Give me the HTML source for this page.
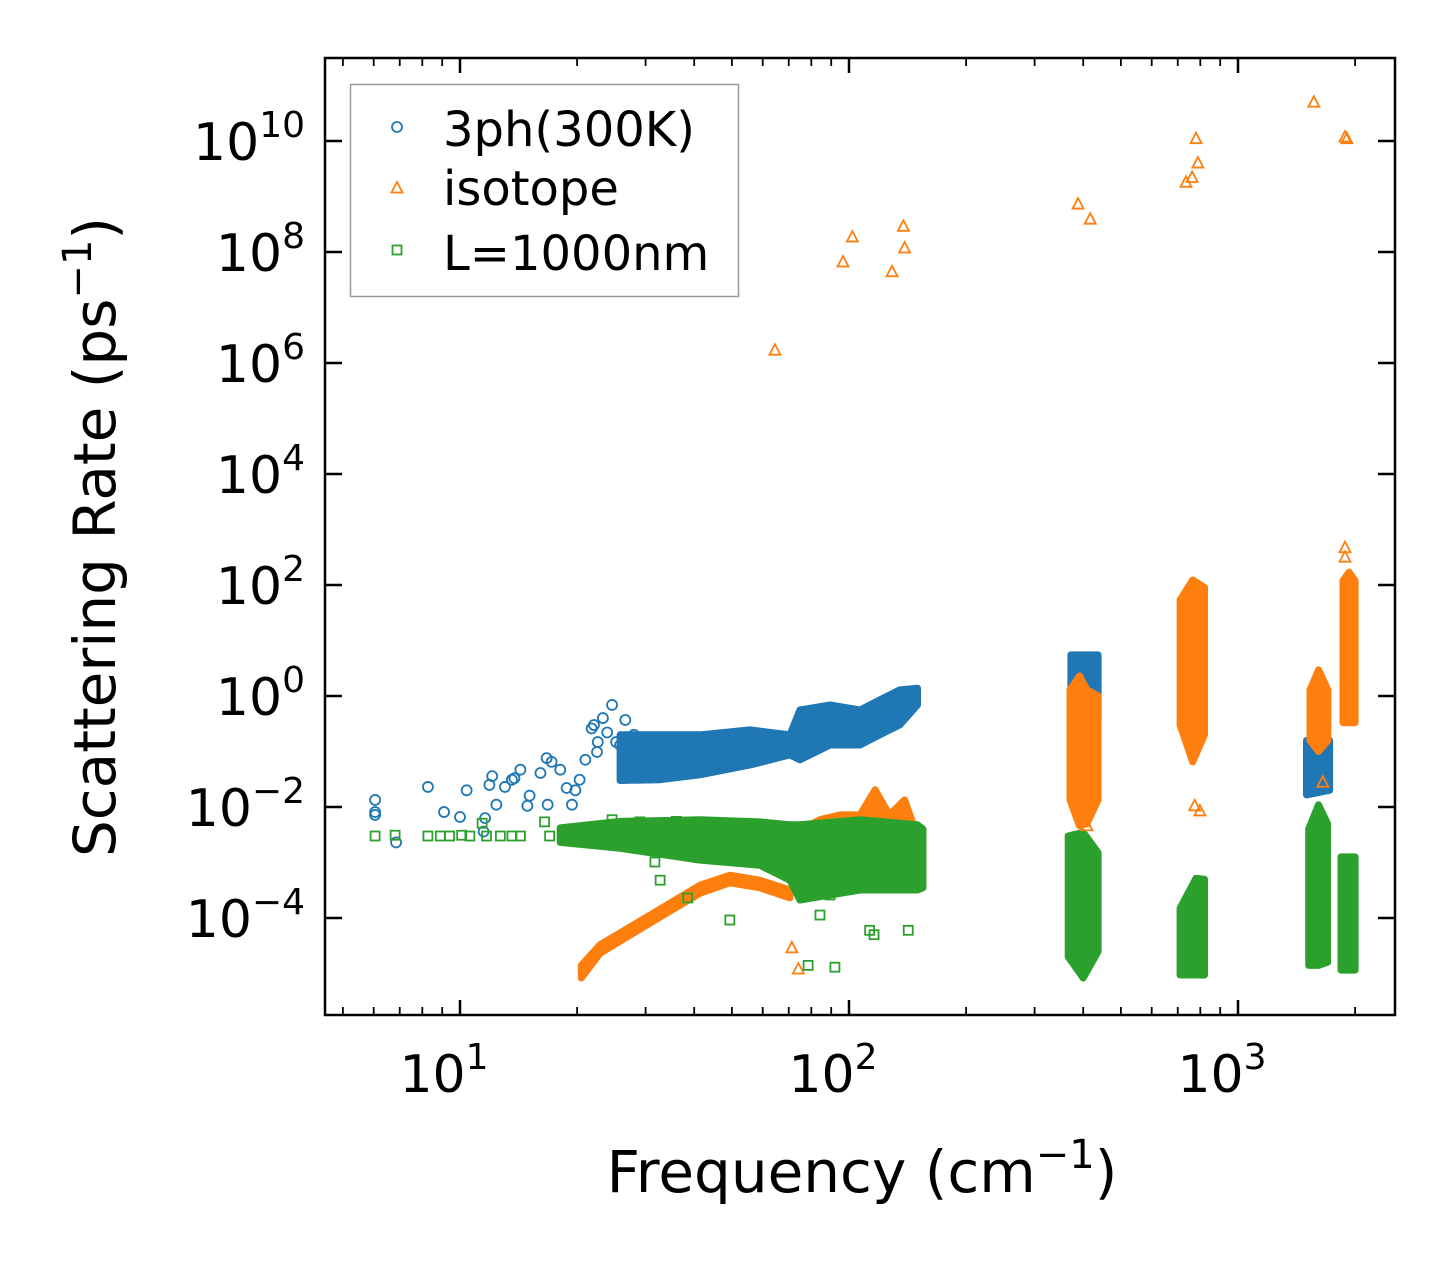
<!DOCTYPE html>
<html><head><meta charset="utf-8"><style>
html,body{margin:0;padding:0;background:#fff;}
svg{display:block;font-family:"DejaVu Sans","Liberation Sans",sans-serif;}
</style></head><body>
<svg id="chart" width="1455" height="1265" viewBox="0 0 1455 1265" xmlns="http://www.w3.org/2000/svg">
<rect width="1455" height="1265" fill="#fff"/>
<g id="bands"></g>
<g id="marks"></g>
<g id="axes"></g>
</svg>
<script>
// ---- data ----
const blueF = [6.05,6.05,6.05,6.85,8.27,9.1,10,10.4,11.5,11.6,12.1,11.9,12.4,13.05,13.6,13.8,14.3,14.9,15.1,16.1,16.7,16.8,17.2,18.1,18.8,19.4,19.8,20.3,21.0,21.8,22.1,22.5,22.6,23.3,23.9,24.6,25.2,25.8,26.6,27.0,28.0,29.0];
const blueR = [0.0134,0.0072,0.0081,0.0023,0.023,0.0081,0.0066,0.020,0.0036,0.0063,0.036,0.025,0.011,0.023,0.031,0.033,0.047,0.0105,0.016,0.041,0.076,0.011,0.065,0.047,0.022,0.011,0.020,0.031,0.071,0.26,0.30,0.098,0.148,0.40,0.22,0.69,0.148,0.131,0.37,0.107,0.20,0.131];
const blueBandF  = [25.8,32.7,41.4,55.7,70.5,74.8,89.4,106.7,120,135,150];
const blueBandLo = [0.03,0.031,0.038,0.057,0.087,0.071,0.131,0.131,0.20,0.30,0.69];
const blueBandHi = [0.2,0.20,0.20,0.245,0.20,0.56,0.69,0.56,0.85,1.29,1.38];
const blueCl1F=[372,405,437], blueCl1Lo=[0.0204,0.031,0.4], blueCl1Hi=[5.5,5.5,5.5];
const blueCl2F=[1500,1720], blueCl2Lo=[0.0165,0.02], blueCl2Hi=[0.158,0.158];

const orangeF = [64.5,96.5,102,129,138,139,388,417,735,762,780,789,1567,1884,1905,71.3,74.1,409,774,798,1652,1884,1884];
const orangeR = [1.7e6,6.6e7,1.86e8,4.4e7,2.9e8,1.18e8,7.3e8,3.9e8,1.8e9,2.2e9,1.1e10,4e9,5e10,1.18e10,1.1e10,2.9e-5,1.2e-5,0.0046,0.0105,0.0085,0.028,470,316];
const orangeRampF  = [20.5,22.9,30.8,41.4,49.4,59,70.5];
const orangeRampLo = [8.3e-6,2.3e-5,8.1e-5,2.8e-4,4.3e-4,3.5e-4,2.3e-4];
const orangeRampHi = [1.4e-5,3.3e-5,1.13e-4,3.9e-4,5.9e-4,4.8e-4,3.2e-4];
const orangeBlkF  = [74.8,84.2,94.8,106.7,116.7,127,139,148,152];
const orangeBlkLo = [8.2e-4,8.2e-4,8.2e-4,8.2e-4,8.2e-4,8.2e-4,8.2e-4,8.2e-4,8.2e-4];
const orangeBlkHi = [0.0039,0.0059,0.0072,0.0072,0.0204,0.0072,0.0134,0.0039,0.0011];
const orangeCl = [
  {f:[370,391,409,437], lo:[0.0134,0.0046,0.005,0.0134], hi:[1.29,2.3,1.29,1.0]},
  {f:[710,765,820], lo:[0.3,0.065,0.2], hi:[54,123,90]},
  {f:[1531,1610,1703], lo:[0.158,0.1,0.158], hi:[1.29,2.95,1.29]},
  {f:[1862,1930,2000], lo:[0.33,0.33,0.33], hi:[120,170,120]}
];

const greenF = [6.05,6.81,8.27,8.9,9.4,10.1,10.6,11.4,11.7,12.7,13.6,14.3,16.5,17.0,31.7,32.7,38.5,49.4,78.5,92,84.2,113,116,142,89.4,24.6,29,36];
const greenR = [0.003,0.0031,0.003,0.003,0.003,0.0031,0.003,0.0051,0.003,0.003,0.003,0.003,0.0054,0.003,0.00102,4.8e-4,2.3e-4,9.2e-5,1.4e-5,1.3e-5,1.13e-4,6e-5,5e-5,6e-5,2.6e-4,0.0059,0.0054,0.0055];
const greenBandF  = [18.1,25.8,41.4,59,70.5,74.8,106.7,150,155];
const greenBandLo = [0.0023,0.0018,0.0011,8.9e-4,4.8e-4,2.1e-4,3.2e-4,3.2e-4,3.5e-4];
const greenBandHi = [0.0042,0.0055,0.0059,0.0054,0.0048,0.0048,0.0059,0.0048,0.004];
const greenCl = [
  {f:[366,400,437], lo:[2e-5,8.3e-6,2.5e-5], hi:[0.003,0.0035,0.0015]},
  {f:[710,780,820], lo:[9.4e-6,9.4e-6,9.4e-6], hi:[1.5e-4,5.2e-4,5e-4]},
  {f:[1520,1610,1700], lo:[1.4e-5,1.4e-5,1.6e-5], hi:[0.004,0.011,0.005]},
  {f:[1840,1920,2000], lo:[1.15e-5,1.15e-5,1.15e-5], hi:[0.00126,0.00126,0.00126]}
];
const xTickExp = [1,2,3];
const yTickExp = [-4,-2,0,2,4,6,8,10];

// ---- axes functions ----
const L=325,R=1395,T=58,B=1015;
function X(f){return 460+389*(Math.log10(f)-1);}
function Y(r){return 141+55.5*(10-Math.log10(r));}
const C={blue:'#1f77b4',orange:'#ff7f0e',green:'#2ca02c'};
const NS='http://www.w3.org/2000/svg';
function mk(tag,attrs,parent){const e=document.createElementNS(NS,tag);for(const k in attrs)e.setAttribute(k,attrs[k]);parent.appendChild(e);return e;}
const bands=document.getElementById('bands'), marks=document.getElementById('marks'), axes=document.getElementById('axes');

function band(fs,lo,hi,color,name){
  const pts=[];
  for(let i=0;i<fs.length;i++)pts.push(X(fs[i]).toFixed(1)+','+Y(hi[i]).toFixed(1));
  for(let i=fs.length-1;i>=0;i--)pts.push(X(fs[i]).toFixed(1)+','+Y(lo[i]).toFixed(1));
  const p=mk('polygon',{points:pts.join(' '),fill:color,stroke:color,'stroke-width':7,'stroke-linejoin':'round'},bands);
  
  
}
function marker(type,x,y,color,parent){
  let e;
  if(type==='o')e=mk('circle',{cx:x,cy:y,r:5,fill:'none',stroke:color,'stroke-width':1.8},parent);
  else if(type==='^')e=mk('polygon',{points:`${x},${y-6} ${x-5.5},${y+4.5} ${x+5.5},${y+4.5}`,fill:'none',stroke:color,'stroke-width':1.8},parent);
  else e=mk('rect',{x:x-4.5,y:y-4.5,width:9,height:9,fill:'none',stroke:color,'stroke-width':1.8},parent);
  return e;
}
band(blueBandF,blueBandLo,blueBandHi,C.blue,'3ph-dense-band');
band(blueCl1F,blueCl1Lo,blueCl1Hi,C.blue,'3ph-cluster-400');
band(blueCl2F,blueCl2Lo,blueCl2Hi,C.blue,'3ph-cluster-1700');
for(let i=0;i<blueF.length;i++){
  const m=marker('o',X(blueF[i]),Y(blueR[i]),C.blue,marks);
  
  
}
band(orangeRampF,orangeRampLo,orangeRampHi,C.orange,'isotope-ramp-band');
band(orangeBlkF,orangeBlkLo,orangeBlkHi,C.orange,'isotope-dense-band');
orangeCl.forEach(c=>band(c.f,c.lo,c.hi,C.orange,'isotope-cluster'));
for(let i=0;i<orangeF.length;i++){
  const m=marker('^',X(orangeF[i]),Y(orangeR[i]),C.orange,marks);
  
  
}
band(greenBandF,greenBandLo,greenBandHi,C.green,'boundary-dense-band');
greenCl.forEach(c=>band(c.f,c.lo,c.hi,C.green,'boundary-cluster'));
for(let i=0;i<greenF.length;i++){
  const m=marker('s',X(greenF[i]),Y(greenR[i]),C.green,marks);
  
  
}

// ---- axes ----
const frame=mk('rect',{x:L,y:T,width:R-L,height:B-T,fill:'none',stroke:'#000','stroke-width':2.5},axes);


for(let d=0;d<=3;d++){
  for(let k=1;k<=9;k++){
    const f=k*Math.pow(10,d), x=X(f);
    if(x<L||x>R)continue;
    const len=k===1?15:8;
    const t1=mk('line',{x1:x,y1:B,x2:x,y2:B-len,stroke:'#000','stroke-width':k===1?2.5:1.8},axes);
    
    
    const t2=mk('line',{x1:x,y1:T,x2:x,y2:T+len,stroke:'#000','stroke-width':k===1?2.5:1.8},axes);
    
    
  }
}
xTickExp.forEach(e=>{
  const x=X(Math.pow(10,e));
  const t=mk('text',{x:x-16,y:1092,'font-size':52,'text-anchor':'middle',fill:'#000'},axes);
  t.innerHTML='10<tspan font-size="36" dy="-23">'+e+'</tspan>';
  
  
});
yTickExp.forEach(e=>{
  const y=Y(Math.pow(10,e));
  const a=mk('line',{x1:L,y1:y,x2:L+17,y2:y,stroke:'#000','stroke-width':2.5},axes);
  
  
  const b=mk('line',{x1:R,y1:y,x2:R-17,y2:y,stroke:'#000','stroke-width':2.5},axes);
  
  
  const t=mk('text',{x:305,y:y+19,'font-size':52,'text-anchor':'end',fill:'#000'},axes);
  t.innerHTML='10<tspan font-size="36" dy="-23">'+(e<0?'\u2212'+(-e):e)+'</tspan>';
  
  
});
</script>
<svg style="position:absolute;left:0;top:0" width="1455" height="1265" viewBox="0 0 1455 1265" xmlns="http://www.w3.org/2000/svg" font-family="DejaVu Sans, Liberation Sans, sans-serif">
<text x="862" y="1192" font-size="58" text-anchor="middle">Frequency (cm<tspan font-size="40" dy="-24">−1</tspan><tspan dy="24">)</tspan></text>
<text transform="translate(115,537) rotate(-90)" font-size="58" text-anchor="middle">Scattering Rate (ps<tspan font-size="40" dy="-24">−1</tspan><tspan dy="24">)</tspan></text>
<g>
<rect x="350.5" y="84.5" width="388" height="212" fill="#fff" fill-opacity="0.8" stroke="#999" stroke-width="1.5"/>
<g>
<circle cx="397" cy="127" r="5" fill="none" stroke="#1f77b4" stroke-width="1.8"/>
<text x="443" y="146" font-size="48">3ph(300K)</text></g>
<g>
<polygon points="397,182 391.5,192.5 402.5,192.5" fill="none" stroke="#ff7f0e" stroke-width="1.8"/>
<text x="443" y="205" font-size="48">isotope</text></g>
<g>
<rect x="392.5" y="245.5" width="9" height="9" fill="none" stroke="#2ca02c" stroke-width="1.8"/>
<text x="443" y="270" font-size="48">L=1000nm</text></g>
</g>
</svg>
</body></html>
